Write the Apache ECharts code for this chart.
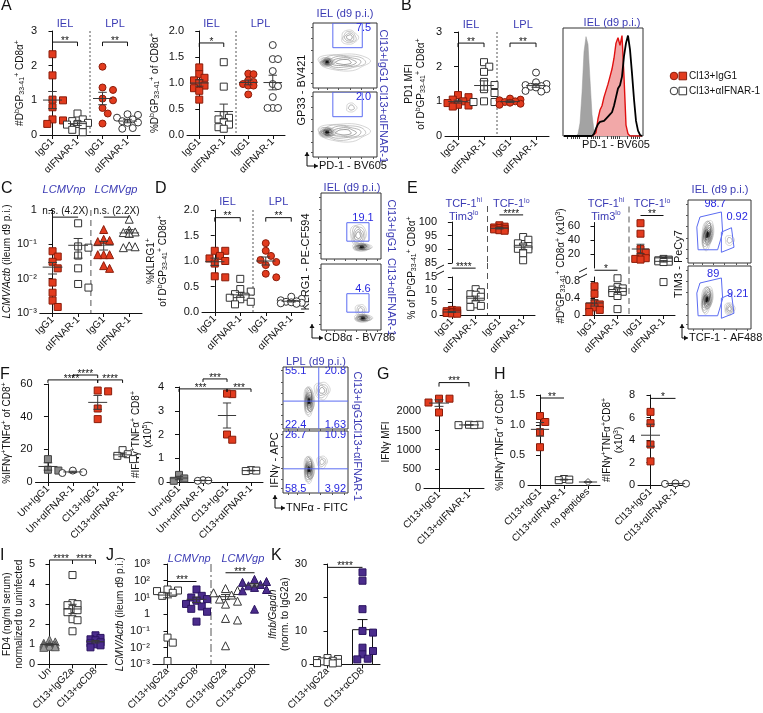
<!DOCTYPE html>
<html><head><meta charset="utf-8">
<script src="https://cdn.jsdelivr.net/npm/echarts@6/dist/echarts.min.js"></script>
<style>html,body{margin:0;padding:0;background:#fff}#c{width:763px;height:713px}</style>
</head><body><div id="c"></div>
<script>
// ================= DATA =================
const catsIfnar = ['IgG1', 'αIFNAR-1', 'IgG1', 'αIFNAR-1'];
// A
const a1IelIgG1 = [2.33, 1.72, 1.02, 1.00, 0.80, 0.45, 0.42, 0.32];
const a1IelIfnar = [0.62, 0.45, 0.40, 0.35, 0.32, 0.30, 0.28, 0.15, 0.08];
const a1LplIgG1 = [1.97, 1.37, 1.30, 1.05, 1.00, 0.78, 0.62, 0.33];
const a1LplIfnar = [0.60, 0.58, 0.50, 0.45, 0.40, 0.36, 0.35, 0.20, 0.18];
const a2IelIgG1 = [1.30, 1.17, 1.10, 1.05, 1.00, 0.95, 0.90, 0.85, 0.68];
const a2IelIfnar = [1.40, 0.93, 0.38, 0.33, 0.30, 0.25, 0.20, 0.15, 0.12];
const a2LplIgG1 = [1.18, 1.17, 1.05, 1.02, 0.98, 0.95, 0.95, 0.78];
const a2LplIfnar = [1.73, 1.46, 1.46, 1.23, 0.98, 0.94, 0.73, 0.52, 0.52, 0.52];
// B
const bIelIgG1 = [1.18, 1.12, 1.05, 1.00, 0.95, 0.90, 0.88, 0.85];
const bIelIfnar = [2.13, 2.00, 1.85, 1.56, 1.47, 1.35, 1.24, 1.00, 0.98, 0.98];
const bLplIgG1 = [1.08, 1.05, 1.03, 1.00, 0.98, 0.96, 0.93, 0.90];
const bLplIfnar = [1.83, 1.55, 1.50, 1.47, 1.44, 1.42, 1.40, 1.35, 1.30, 1.28];
const histGrey = [0,0,0,0,0,0,0,2,12,40,78,92,85,52,20,5,1,0,0,0,0,0,0,0,0,0,0,0,0,0,0,0,0,0,0,0,0,0,0,0];
const histRed = [0,0,0,0,0,0,0,0,0,0,0,0,0,0,0,0,3,16,24,28,36,42,48,55,62,72,86,91,84,93,55,10,2,0,0,0,0,0,0,0];
const histBlack = [0,0,0,0,0,0,0,0,0,0,0,0,0,0,0,2,7,11,13,12,14,15,18,20,22,28,36,44,47,55,74,86,93,80,58,34,14,5,1,0];
// C
const cNpIgG1 = [0.063, 0.044, 0.031, 0.020, 0.0077, 0.0039, 0.0023, 0.0015];
const cNpIfnar = [0.41, 0.087, 0.080, 0.047, 0.020, 0.007, 0.0055];
const cGpIgG1 = [0.27, 0.14, 0.13, 0.12, 0.05, 0.05, 0.05, 0.024, 0.02];
const cGpIfnar = [0.54, 0.26, 0.23, 0.22, 0.21, 0.09, 0.085, 0.08];
// D
const dIelIgG1 = [1.20, 1.20, 1.10, 1.05, 1.00, 0.95, 0.70, 0.68];
const dIelIfnar = [0.65, 0.45, 0.40, 0.35, 0.30, 0.28, 0.25, 0.20, 0.15];
const dLplIgG1 = [1.35, 1.20, 1.10, 1.02, 0.98, 0.92, 0.75, 0.68];
const dLplIfnar = [0.30, 0.26, 0.23, 0.21, 0.20, 0.19, 0.18, 0.17, 0.16];
// E
const eTcfHiIgG1 = [2.0, 1.8, 1.5, 1.2, 1.0, 0.8, 0.6, 0.5];
const eTcfHiIfnar = [10.2, 9.0, 8.2, 8.0, 7.2, 6.0, 4.2, 3.6, 3.2];
const eTcfLoIgG1 = [98.8, 98.3, 98.0, 97.8, 97.5, 97.3, 97.0, 96.8];
const eTcfLoIfnar = [94.5, 93.5, 92.2, 91.2, 91.0, 90.2, 90.0, 88.5, 86.0];
const e2TcfHiIgG1 = [0.68, 0.50, 0.28, 0.25, 0.20, 0.18, 0.12, 0.07];
const e2TcfHiIfnar = [0.87, 0.66, 0.63, 0.60, 0.57, 0.55, 0.52, 0.45, 0.14];
const e2TcfLoIgG1 = [64, 49, 27, 22, 16, 14, 13, 12];
const e2TcfLoIfnar = [13, 12, 11, 11, 10.5, 10, 9.5, 9, 8.5, 0.78];
// F
const catsF = ['Un+IgG1', 'Un+αIFNAR-1', 'Cl13+IgG1', 'Cl13+αIFNAR-1'];
const f1UnIgG1 = [14, 7.5, 7];
const f1UnIfnar = [7, 6, 5.5];
const f1ClIgG1 = [55.5, 56, 45, 38.5];
const f1ClIfnar = [19.5, 17, 16, 14];
const f2UnIgG1 = [0.30, 0.15, 0.05];
const f2UnIfnar = [0.08, 0.06, 0.05];
const f2ClIgG1 = [3.70, 3.72, 2.00, 1.78];
const f2ClIfnar = [0.50, 0.46, 0.48];
// G, H
const catsG = ['Cl13+IgG1', 'Cl13+αIFNAR-1'];
const gIgG1 = [2230, 2330, 2330, 1970];
const gIfnar = [1640, 1650, 1650, 1640];
const catsH1 = ['Cl13+IgG1', 'Cl13+αIFNAR-1', 'no peptides'];
const h1IgG1 = [1.15, 1.05, 0.88, 0.63];
const h1Ifnar = [0.10, 0.08, 0.09];
const h1NoPep = [0.05];
const h2IgG1 = [6.5, 5.5, 3.6, 2.1];
const h2Ifnar = [0.15, 0.12, 0.10];
// I, J, K
const catsI = ['Un', 'Cl13+IgG2a', 'Cl13+αCD8'];
const iUn = [1.22, 1.12, 1.05, 1.00, 0.96, 0.95, 0.90, 0.88, 0.85];
const iIgG2a = [4.45, 3.05, 3.00, 2.95, 2.75, 2.70, 2.60, 2.25, 2.20, 1.65];
const iCd8 = [1.45, 1.32, 1.25, 1.20, 1.10, 1.05, 1.00, 0.95, 0.85];
const catsJ = ['Cl13+IgG2a', 'Cl13+αCD8', 'Cl13+IgG2a', 'Cl13+αCD8'];
const jNpIgG2a = [30, 26, 24, 19, 12.5, 0.04, 0.02, 0.0016];
const jNpCd8 = [30, 12.5, 10, 8, 6.4, 4.1, 2.9, 2.1, 1.4, 0.36];
const jGpIgG2a = [34, 26, 19, 14, 8, 6, 4, 0.56, 0.45, 0.013];
const jGpCd8 = [120, 90, 80, 60, 50, 40, 30, 25, 2];
const catsK = ['Cl13+IgG2a', 'Cl13+αCD8'];
const kIgG2a = [1.9, 1.6, 1.3, 1.1, 0.9, 0.7, 0.5, 0.4, 0.3];
const kCd8 = [27.5, 25, 16.5, 10, 9.5, 5, 4, 3, 1.7, 1.5];
// Flow plots: populations [cx, cy, rx, ry, rotDeg, levels, darkness]
const flowAIgG1Pops = [[48,40,40,13,0,5,0.5],[22,40,12,7,0,8,1],[57,78,13,11,0,4,0.45]];
const flowAIfnarPops = [[48,38,40,14,0,5,0.5],[22,38,14,8,0,8,1],[60,76,8,7,0,2,0.3]];
const flowDIgG1Pops = [[62,36,13,17,0,5,0.55],[68,18,16,6,0,8,1]];
const flowDIfnarPops = [[66,30,9,9,0,3,0.35],[70,18,15,6,0,8,1]];
const flowEIgG1Pops = [[31,45,9,24,-8,9,1],[66,36,7,8,0,2,0.3]];
const flowEIfnarPops = [[30,47,9,22,-8,9,1],[66,32,8,10,0,4,0.5]];
const flowFIgG1Pops = [[60,62,12,14,0,4,0.45],[40,45,8,24,0,9,1]];
const flowFIfnarPops = [[60,50,8,10,0,3,0.35],[40,38,8,22,0,9,1]];
const gateRectA = [[31,62],[77,100]];
const gateRectD = [[43,27],[80,55]];
const gateEHi = [[19,73],[53,81],[55,48],[47,21],[16,21],[14,57]];
const gateELo = [[53,49],[69,56],[73,25],[53,17]];
const labelsAIgG1 = [[79,92,'7.5']], labelsAIfnar = [[79,92,'2.0']];
const labelsDIgG1 = [[70,62,'19.1']], labelsDIfnar = [[70,62,'4.6']];
const labelsEIgG1 = [[43,94,'98.7'],[78,73,'0.92']], labelsEIfnar = [[40,88,'89'],[79,56,'9.21']];
const quadFIgG1 = [55,45], quadFIfnar = [55,39];
const labelsFIgG1 = [[3,93,'55.1','left'],[97,93,'20.8','right'],[3,7,'22.4','left'],[97,7,'1.63','right']];
const labelsFIfnar = [[3,93,'26.7','left'],[97,93,'10.9','right'],[3,7,'58.5','left'],[97,7,'3.92','right']];

// ================= STYLE =================
const FONT = '"Liberation Sans", Arial, Helvetica, sans-serif';
const BLUE = '#3a3ab4', GATE = '#5b6cf2';
const RED = '#e23b1e', REDB = '#8a1c0a', PUR = '#4b2c8c', PURB = '#2a1360';
const STY = {
  redSq: {symbol:'rect', color:RED, border:REDB, size:7},
  redCi: {symbol:'circle', color:RED, border:REDB, size:7},
  redTri: {symbol:'triangle', color:RED, border:REDB, size:8},
  openSq: {symbol:'rect', color:'#fff', border:'#333', size:7},
  openCi: {symbol:'circle', color:'#fff', border:'#333', size:7},
  openTri: {symbol:'triangle', color:'#fff', border:'#333', size:8},
  greySq: {symbol:'rect', color:'#8a8a8a', border:'#444', size:7},
  greyTri: {symbol:'triangle', color:'#9a9a9a', border:'#555', size:8},
  purSq: {symbol:'rect', color:PUR, border:PURB, size:7},
  purTri: {symbol:'triangle', color:PUR, border:PURB, size:8},
  openDia: {symbol:'diamond', color:'#fff', border:'#555', size:7}
};
const RICH = {
  sup: {fontSize:7, color:'#111', fill:'#111', padding:[0,0,6,0], fontFamily:FONT},
  sub: {fontSize:7, color:'#111', fill:'#111', padding:[5,0,0,0], fontFamily:FONT},
  it: {fontSize:10, color:'#111', fill:'#111', fontStyle:'italic', fontFamily:FONT}
};
const RICHB = {s: {fontSize:7, color:BLUE, fill:BLUE, padding:[0,0,6,0], fontFamily:FONT}};
const SUPS = {'-':'⁻','0':'⁰','1':'¹','2':'²','3':'³'};
const logFmt = v => { const e = Math.round(Math.log10(v)); return e === 0 ? '1' : '10' + String(e).split('').map(c => SUPS[c]).join(''); };
const f1 = v => v.toFixed(1);
const f1z = v => v === 0 ? '0' : v.toFixed(1);

const option = {animation:false, textStyle:{fontFamily:FONT}, grid:[], xAxis:[], yAxis:[], series:[], graphic:[]};
const G = option.graphic;

function addGrid(r, border){
  option.grid.push(Object.assign({left:r.l, top:r.t, width:r.w, height:r.h, containLabel:false},
    border ? {show:true, borderColor:'#333', borderWidth:1, backgroundColor:'#fff'} : {}));
  return option.grid.length - 1;
}
function stats(a){
  const n = a.length, m = a.reduce((s,v)=>s+v,0)/n;
  const sd = n > 1 ? Math.sqrt(a.reduce((s,v)=>s+(v-m)*(v-m),0)/(n-1)) : 0;
  return {m, se: sd/Math.sqrt(n)};
}
// deterministic swarm layout: nudges overlapping points sideways, bounded inside the category
function swarm(vals, toPx, s, catW){
  const pts = vals.map((v,i)=>({y:toPx(v), i, x:0}));
  const order = pts.slice().sort((a,b)=>b.y-a.y);
  const placed = [];
  const cands = [0, 1, -1, 2, -2, 3, -3].map(k => k*s*0.75).filter(o => Math.abs(o) <= catW*0.42);
  order.forEach(p => {
    let best = 0, bestD = -1;
    for (const off of cands){
      let minD = Infinity;
      placed.forEach(q => { const d = Math.hypot(q.x - off, q.y - p.y); if (d < minD) minD = d; });
      if (minD >= s*0.95){ best = off; break; }
      if (minD > bestD){ bestD = minD; best = off; }
    }
    p.x = best; placed.push(p);
  });
  return pts.map(p => p.x / catW);
}
function cs(xv, yi, extra){ return Object.assign({type:'custom', coordinateSystem:'cartesian2d', xAxisIndex:xv, yAxisIndex:yi, silent:true}, extra); }

function addPlot(P){
  const g = addGrid(P.r);
  const n = P.cats.length, catW = P.r.w / n;
  const Y = P.y, keep = P.keep || [Y.min, Y.max];
  const xc = option.xAxis.length;
  option.xAxis.push({gridIndex:g, type:'category', data:P.cats.map((c,i)=>String(i)), show:!P.hideX, boundaryGap:true,
    axisLine:{show:true, lineStyle:{color:'#111', width:1}},
    axisTick:{show:true, alignWithLabel:true, length:4, lineStyle:{color:'#111'}},
    axisLabel:{show:true, interval:0, rotate:45, fontSize:10, color:'#111', fontFamily:FONT, margin:5, formatter:(v,i)=>P.cats[i]},
    splitLine:{show:false}});
  option.xAxis.push({gridIndex:g, type:'value', min:-0.5, max:n-0.5, show:false});
  const xv = xc + 1, yi = option.yAxis.length;
  option.yAxis.push({gridIndex:g, type:Y.log?'log':'value', logBase:10, min:Y.min, max:Y.max,
    axisLine:{show:true, lineStyle:{color:'#111', width:1}},
    axisTick:{show:true, length:4, lineStyle:{color:'#111'}, customValues:Y.ticks},
    axisLabel:{show:true, fontSize:11, color:'#111', fontFamily:FONT, margin:3, customValues:Y.ticks, formatter:Y.fmt || (v=>String(v))},
    splitLine:{show:false}, minorTick:{show:false},
    name:P.name || '', nameLocation:'middle', nameRotate:90, nameGap:P.ng || 20,
    nameTextStyle:{fontSize:10, color:'#111', fontFamily:FONT, lineHeight:12, rich:RICH}});
  const toPx = Y.log ? (v => Math.log10(v/Y.min)/Math.log10(Y.max/Y.min)*P.r.h) : (v => (v-Y.min)/(Y.max-Y.min)*P.r.h);
  if (P.div){
    const ext = P.div.ext || 0, dash = P.div.dash;
    option.series.push(cs(xv, yi, {z:1, clip:false, data:[[1.5, Y.min]], renderItem:(params, api)=>{
      const c = params.coordSys, x = api.coord([1.5, Y.min])[0];
      return {type:'line', shape:{x1:x, y1:c.y - ext, x2:x, y2:c.y + c.height}, style:{stroke:'#555', lineWidth:1, lineDash:dash}};
    }}));
  }
  const rows = P.groups.map(([cat, vals]) => { const s = stats(vals); return [cat, s.m, Math.max(s.m - s.se, Y.min), Math.min(s.m + s.se, Y.max)]; });
  if (P.bars){
    const bw = P.bars;
    option.series.push(cs(xv, yi, {z:2, data:rows, renderItem:(params, api)=>{
      const x = api.value(0), m = api.value(1), hi = api.value(3);
      const p0 = api.coord([x, 0]), pm = api.coord([x, m]), ph = api.coord([x, hi]);
      const st = {stroke:'#111', lineWidth:1};
      return {type:'group', children:[
        {type:'rect', shape:{x:p0[0]-bw/2, y:pm[1], width:bw, height:p0[1]-pm[1]}, style:{fill:'#fff', stroke:'#111', lineWidth:1}},
        {type:'line', shape:{x1:pm[0], y1:pm[1], x2:pm[0], y2:ph[1]}, style:st},
        {type:'line', shape:{x1:pm[0]-5, y1:ph[1], x2:pm[0]+5, y2:ph[1]}, style:st}]};
    }}));
  }
  P.groups.forEach(([cat, vals, sk]) => {
    const st = STY[sk];
    const kept = vals.filter(v => v >= keep[0] && v <= keep[1]);
    const offs = swarm(kept, toPx, st.size, catW);
    option.series.push({type:'scatter', xAxisIndex:xv, yAxisIndex:yi, symbol:st.symbol, symbolSize:st.size, silent:true, z:4,
      itemStyle:{color:st.color, borderColor:st.border, borderWidth:1, opacity:1},
      data: kept.map((v,i)=>[cat + offs[i], v])});
  });
  if (!P.bars){
    const hw = Math.min(10, catW*0.38), cw = hw*0.45;
    option.series.push(cs(xv, yi, {z:6, data:rows, renderItem:(params, api)=>{
      const x = api.value(0), m = api.value(1);
      if (m < keep[0] || m > keep[1]) return {type:'group', children:[]};
      const lo = Math.max(api.value(2), keep[0]), hi = Math.min(api.value(3), keep[1]);
      const pm = api.coord([x, m]), pl = api.coord([x, lo]), ph = api.coord([x, hi]);
      const st = {stroke:'#3a3a3a', lineWidth:1};
      return {type:'group', children:[
        {type:'line', shape:{x1:pm[0]-hw, y1:pm[1], x2:pm[0]+hw, y2:pm[1]}, style:st},
        {type:'line', shape:{x1:pm[0], y1:pl[1], x2:pm[0], y2:ph[1]}, style:st},
        {type:'line', shape:{x1:pm[0]-cw, y1:pl[1], x2:pm[0]+cw, y2:pl[1]}, style:st},
        {type:'line', shape:{x1:pm[0]-cw, y1:ph[1], x2:pm[0]+cw, y2:ph[1]}, style:st}]};
    }}));
  }
  if (P.sig){
    const sigs = P.sig;
    option.series.push(cs(xv, yi, {z:6, clip:false, data:sigs.map(s=>[s[0], s[2]]), renderItem:(params, api)=>{
      const s = sigs[params.dataIndex];
      const p1 = api.coord([s[0], s[2]]), p2 = api.coord([s[1], s[2]]), d = s[4] || 0;
      const tx = s[5] != null ? api.coord([s[5], s[2]])[0] : (p1[0]+p2[0])/2;
      const pts = d ? [[p1[0],p1[1]+d],[p1[0],p1[1]],[p2[0],p2[1]],[p2[0],p2[1]+d]] : [[p1[0],p1[1]],[p2[0],p2[1]]];
      const star = /^\*+$/.test(s[3]);
      return {type:'group', children:[
        {type:'polyline', shape:{points:pts}, style:{stroke:'#111', lineWidth:1, fill:'none'}},
        {type:'text', x:tx, y:p1[1] + (star ? 4 : -1), style:{text:s[3], textAlign:'center', textVerticalAlign:'bottom', font:'10px '+FONT, fill:'#111'}}]};
    }}));
  }
  (P.heads || []).forEach(h => {
    G.push({type:'text', x:P.r.l + (h[1]+0.5)*catW, y:h[2], style:{text:h[0], rich:RICHB, textAlign:'center', textVerticalAlign:'middle',
      font:(h[3]?'italic ':'')+'11px '+FONT, fill:BLUE, lineHeight:13}});
  });
}

function addFlow(r, pops, gates, labels, quad){
  const g = addGrid(r, true);
  option.xAxis.push({gridIndex:g, type:'value', min:0, max:100, axisLine:{show:false}, axisLabel:{show:false}, splitLine:{show:false},
    axisTick:{show:true, length:2, lineStyle:{color:'#555'}, customValues:[8,22,40,58,76,94]}});
  option.yAxis.push({gridIndex:g, type:'value', min:0, max:100, axisLine:{show:false}, axisLabel:{show:false}, splitLine:{show:false},
    axisTick:{show:true, length:2, lineStyle:{color:'#555'}, customValues:[8,22,40,58,76,94]}});
  const xi = option.xAxis.length - 1, yi = option.yAxis.length - 1;
  option.series.push(cs(xi, yi, {z:3, clip:true, data:[[50,50]], renderItem:(params, api)=>{
    const ch = [];
    pops.forEach((p, pi) => {
      const c = api.coord([p[0], p[1]]), sz = api.size([p[2], p[3]]);
      const rot = p[4]*Math.PI/180, lev = p[5], dark = p[6];
      for (let k = 0; k < lev; k++){
        const f = 1 - k/lev*0.88;
        const gv = Math.round(195 - 175*dark*(lev > 1 ? k/(lev-1) : 0.3));
        const pts = [];
        for (let j = 0; j < 40; j++){
          const a = 2*Math.PI*j/40;
          const w = 1 + 0.07*Math.sin(3*a + k + pi) + 0.04*Math.cos(5*a + 2*k);
          const ex = sz[0]*f*w*Math.cos(a), ey = sz[1]*f*w*Math.sin(a);
          pts.push([c[0] + ex*Math.cos(rot) - ey*Math.sin(rot), c[1] - (ex*Math.sin(rot) + ey*Math.cos(rot))]);
        }
        ch.push({type:'polygon', shape:{points:pts}, style:{fill:(k === lev-1 && dark > 0.8) ? '#151515' : 'none', stroke:'rgb('+gv+','+gv+','+gv+')', lineWidth:0.7}});
      }
    });
    gates.forEach(gp => {
      const pts = gp.length === 2 ? [[gp[0][0],gp[0][1]],[gp[1][0],gp[0][1]],[gp[1][0],gp[1][1]],[gp[0][0],gp[1][1]]] : gp;
      ch.push({type:'polygon', shape:{points:pts.map(p => api.coord(p))}, style:{fill:'none', stroke:GATE, lineWidth:1}});
    });
    if (quad){
      const a = api.coord([quad[0], 0]), b = api.coord([quad[0], 100]), c = api.coord([0, quad[1]]), d = api.coord([100, quad[1]]);
      ch.push({type:'line', shape:{x1:a[0], y1:a[1], x2:b[0], y2:b[1]}, style:{stroke:GATE, lineWidth:1}});
      ch.push({type:'line', shape:{x1:c[0], y1:c[1], x2:d[0], y2:d[1]}, style:{stroke:GATE, lineWidth:1}});
    }
    labels.forEach(l => {
      const p = api.coord([l[0], l[1]]);
      ch.push({type:'text', x:p[0], y:p[1], style:{text:l[2], textAlign:l[3] || 'center', textVerticalAlign:'middle', font:'11px '+FONT, fill:'#2828e0'}});
    });
    return {type:'group', children:ch};
  }}));
}

// ================= PLOTS =================
addPlot({r:{l:40,t:31,w:100,h:104}, cats:catsIfnar, y:{min:0,max:3,ticks:[0,1,2,3]},
  groups:[[0,a1IelIgG1,'redSq'],[1,a1IelIfnar,'openSq'],[2,a1LplIgG1,'redCi'],[3,a1LplIfnar,'openCi']],
  div:{dash:[2,2]}, heads:[['IEL',0.5,24],['LPL',2.5,24]], sig:[[0,1,2.68,'**',4],[2,3,2.68,'**',4]],
  name:'#D{sup|b}GP{sub|33-41}{sup|+} CD8α{sup|+}', ng:14});
addPlot({r:{l:187,t:31,w:98,h:104}, cats:catsIfnar, y:{min:0,max:2,ticks:[0,0.5,1,1.5,2],fmt:f1},
  groups:[[0,a2IelIgG1,'redSq'],[1,a2IelIfnar,'openSq'],[2,a2LplIgG1,'redCi'],[3,a2LplIfnar,'openCi']],
  div:{dash:[2,2]}, heads:[['IEL',0.5,24],['LPL',2.5,24]], sig:[[0,1,1.77,'*',4]],
  name:'%D{sup|b}GP{sub|33-41}{sup|+} of CD8α{sup|+}', ng:26});
addPlot({r:{l:445,t:32,w:104,h:104}, cats:catsIfnar, y:{min:0,max:3,ticks:[0,1,2,3]},
  groups:[[0,bIelIgG1,'redSq'],[1,bIelIfnar,'openSq'],[2,bLplIgG1,'redCi'],[3,bLplIfnar,'openCi']],
  div:{dash:[2,2]}, heads:[['IEL',0.5,25],['LPL',2.5,25]], sig:[[0,1,2.68,'**',4],[2,3,2.68,'**',4]],
  name:'PD1 MFI\nof D{sup|b}GP{sub|33-41}{sup|+} CD8α{sup|+}', ng:18});
addPlot({r:{l:38,t:210,w:104,h:103}, cats:catsIfnar, y:{log:true,min:0.001,max:1,ticks:[0.001,0.01,0.1,1],fmt:logFmt},
  groups:[[0,cNpIgG1,'redSq'],[1,cNpIfnar,'openSq'],[2,cGpIgG1,'redTri'],[3,cGpIfnar,'openTri']],
  div:{dash:[6,4]}, heads:[['LCMVnp',0.5,190,true],['LCMVgp',2.5,190,true]],
  sig:[[0,1,0.62,'n.s. (4.2X)',0],[2,3,0.62,'n.s. (2.2X)',0]],
  name:'{it|LCMV/Actb} (ileum d9 p.i.)', ng:24});
addPlot({r:{l:202,t:210,w:102,h:102}, cats:catsIfnar, y:{min:0,max:2,ticks:[0,0.5,1,1.5,2],fmt:f1},
  groups:[[0,dIelIgG1,'redSq'],[1,dIelIfnar,'openSq'],[2,dLplIgG1,'redCi'],[3,dLplIfnar,'openCi']],
  div:{dash:[2,2]}, heads:[['IEL',0.5,202],['LPL',2.5,202]], sig:[[0,1,1.85,'**',4],[2,3,1.85,'**',4]],
  name:'%KLRG1{sup|+}\nof D{sup|b}GP{sub|33-41}{sup|+} CD8α{sup|+}', ng:33});
// E1 broken axis
const eGroups1 = [[0,eTcfHiIgG1,'redSq'],[1,eTcfHiIfnar,'openSq'],[2,eTcfLoIgG1,'redSq'],[3,eTcfLoIfnar,'openSq']];
addPlot({r:{l:440,t:222,w:95,h:41}, cats:catsIfnar, hideX:true, y:{min:85,max:100,ticks:[85,90,95,100]}, keep:[85,100],
  groups:eGroups1, div:{dash:[6,4], ext:16}, sig:[[2,3,102.6,'****',0]],
  heads:[['TCF-1{s|hi}\nTim3{s|lo}',0.5,210],['TCF-1{s|lo}',2.5,204]]});
addPlot({r:{l:440,t:277,w:95,h:38}, cats:catsIfnar, y:{min:0,max:15,ticks:[0,5,10,15]}, keep:[0,15],
  groups:eGroups1, div:{dash:[6,4], ext:14}, sig:[[0,1,18.5,'****',0]]});
// E2 broken axis
const eGroups2 = [[0,e2TcfHiIgG1,'redSq'],[1,e2TcfHiIfnar,'openSq'],[2,e2TcfLoIgG1,'redSq'],[3,e2TcfLoIfnar,'openSq']];
addPlot({r:{l:583,t:222.5,w:92,h:45.5}, cats:catsIfnar, hideX:true, y:{min:0,max:65,ticks:[20,40,60]}, keep:[0.9,65],
  groups:eGroups2, div:{dash:[6,4], ext:16}, sig:[[2,3,75,'**',0]],
  heads:[['TCF-1{s|hi}\nTim3{s|lo}',0.5,210],['TCF-1{s|lo}',2.5,204]]});
addPlot({r:{l:583,t:277,w:92,h:38}, cats:catsIfnar, y:{min:0,max:0.9,ticks:[0,0.4,0.8],fmt:f1z}, keep:[0,0.9],
  groups:eGroups2, div:{dash:[6,4], ext:9}, sig:[[0,1,1.06,'*',0]]});
// F
addPlot({r:{l:35,t:384,w:100,h:98}, cats:catsF, y:{min:0,max:60,ticks:[0,20,40,60]},
  groups:[[0,f1UnIgG1,'greySq'],[1,f1UnIfnar,'openCi'],[2,f1ClIgG1,'redSq'],[3,f1ClIfnar,'openSq']],
  sig:[[1,2,65.5,'****',3],[0,2,62.5,'****',3,0.95],[2,3,62.5,'****',3]],
  name:'%IFNγ{sup|+}TNFα{sup|+} of CD8{sup|+}', ng:22});
addPlot({r:{l:167,t:387,w:96,h:95}, cats:catsF, y:{min:0,max:4,ticks:[0,1,2,3,4]},
  groups:[[0,f2UnIgG1,'greySq'],[1,f2UnIfnar,'openCi'],[2,f2ClIgG1,'redSq'],[3,f2ClIfnar,'openSq']],
  sig:[[1,2,4.34,'***',3],[0,2,3.92,'***',3,0.9],[2,3,3.92,'***',3]],
  name:'#IFNγ{sup|+}TNFα{sup|+} CD8{sup|+}\n(x10{sup|5})', ng:12});
// G, H
addPlot({r:{l:424,t:396,w:60,h:92}, cats:catsG, y:{min:0,max:2400,ticks:[0,500,1000,1500,2000]},
  groups:[[0,gIgG1,'redSq'],[1,gIfnar,'openSq']], sig:[[0,1,2750,'***',4]],
  name:'IFNγ MFI', ng:31});
addPlot({r:{l:528,t:395,w:72,h:90}, cats:catsH1, y:{min:0,max:1.5,ticks:[0,0.5,1,1.5],fmt:f1z},
  groups:[[0,h1IgG1,'redSq'],[1,h1Ifnar,'openSq'],[2,h1NoPep,'openDia']], sig:[[0,1,1.45,'**',0]],
  name:'%IFNγ{sup|+}TNFα{sup|+} of CD8{sup|+}', ng:18});
addPlot({r:{l:638,t:395,w:50,h:90}, cats:catsG, y:{min:0,max:8,ticks:[0,2,4,6,8]},
  groups:[[0,h2IgG1,'redSq'],[1,h2Ifnar,'openCi']], sig:[[0,1,7.7,'*',0]],
  name:'#IFNγ{sup|+}TNFα{sup|+}CD8{sup|+}\n(x10{sup|3})', ng:12});
// I, J, K
addPlot({r:{l:35,t:564,w:72,h:104}, cats:catsI, y:{min:0,max:5,ticks:[0,1,2,3,4,5]},
  groups:[[0,iUn,'greyTri'],[1,iIgG2a,'openSq'],[2,iCd8,'purSq']], sig:[[0,1,5.2,'****',4],[1,2,5.2,'****',4]],
  name:'FD4 (ng/ml serum)\nnormalized to uninfected', ng:9});
addPlot({r:{l:153,t:564,w:116,h:104}, cats:catsJ, y:{log:true,min:0.001,max:1000,ticks:[0.001,0.01,0.1,1,10,100,1000],fmt:logFmt},
  groups:[[0,jNpIgG2a,'openSq'],[1,jNpCd8,'purSq'],[2,jGpIgG2a,'openTri'],[3,jGpCd8,'purTri']],
  div:{dash:[8,3,2,3]}, heads:[['LCMVnp',0.75,559,true],['LCMVgp',2.6,559,true]],
  sig:[[0,1,90,'***',0],[2,3,300,'***',0]],
  name:'{it|LCMV/Actb} (ileum d9 p.i.)', ng:20});
addPlot({r:{l:310,t:564,w:70,h:105}, cats:catsK, y:{min:0,max:30,ticks:[0,10,20,30]}, bars:20,
  groups:[[0,kIgG2a,'openSq'],[1,kCd8,'purSq']], sig:[[0,1,29,'****',0]],
  name:'{it|Ifnb/Gapdh}\n(norm. to IgG2a)', ng:15});

// ================= FLOW / HISTOGRAM =================
addFlow({l:313,t:23,w:64,h:65}, flowAIgG1Pops, [gateRectA], labelsAIgG1);
addFlow({l:313,t:92,w:64,h:65}, flowAIfnarPops, [gateRectA], labelsAIfnar);
addFlow({l:321,t:193,w:60,h:66}, flowDIgG1Pops, [gateRectD], labelsDIgG1);
addFlow({l:321,t:264,w:60,h:66}, flowDIfnarPops, [gateRectD], labelsDIfnar);
addFlow({l:688,t:200,w:63,h:63}, flowEIgG1Pops, [gateEHi, gateELo], labelsEIgG1);
addFlow({l:688,t:266,w:63,h:63}, flowEIfnarPops, [gateEHi, gateELo], labelsEIfnar);
addFlow({l:283,t:367,w:65,h:62}, flowFIgG1Pops, [], labelsFIgG1, quadFIgG1);
addFlow({l:283,t:431,w:65,h:62}, flowFIfnarPops, [], labelsFIfnar, quadFIfnar);

(function(){
  const g = addGrid({l:563,t:28,w:80,h:108}, true);
  option.xAxis.push({gridIndex:g, type:'value', min:0, max:80, axisLine:{show:false}, axisLabel:{show:false}, splitLine:{show:false},
    axisTick:{show:true, length:3, lineStyle:{color:'#444'}, customValues:[4,8,10,12,14,16,24,28,30,32,34,36,44,48,50,52,54,56,64,68,70,72,74,76]}});
  option.yAxis.push({gridIndex:g, type:'value', min:0, max:100, show:false});
  const xi = option.xAxis.length - 1, yi = option.yAxis.length - 1;
  const mk = arr => arr.map((v,i)=>[i*2+1, v]);
  option.series.push({type:'line', xAxisIndex:xi, yAxisIndex:yi, data:mk(histGrey), symbol:'none', silent:true, z:2,
    lineStyle:{color:'#999', width:0.5}, areaStyle:{color:'#a3a3a3', opacity:1}});
  option.series.push({type:'line', xAxisIndex:xi, yAxisIndex:yi, data:mk(histRed), symbol:'none', silent:true, z:3,
    lineStyle:{color:'#e01010', width:1.4}, areaStyle:{color:'#f2a8a8', opacity:1}});
  option.series.push({type:'line', xAxisIndex:xi, yAxisIndex:yi, data:mk(histBlack), symbol:'none', silent:true, z:4,
    lineStyle:{color:'#000', width:1.8}});
})();

// ================= ANNOTATIONS =================
function txt(x, y, text, o){
  o = o || {};
  G.push({type:'text', x, y, rotation:o.rot || 0, style:{text, rich:o.rich, textAlign:o.align || 'center', textVerticalAlign:o.va || 'middle',
    font:(o.italic?'italic ':'') + (o.size || 11) + 'px ' + FONT, fill:o.color || '#111', lineHeight:o.lh || 12}});
}
[['A',1,0],['B',401,0],['C',1,183],['D',155,183],['E',407,183],['F',0,369],['G',377,369],['H',494,369],['I',0,550],['J',106,550],['K',271,550]]
  .forEach(l => txt(l[1], l[2], l[0], {size:16, align:'left', va:'top'}));
// flow titles
txt(345, 14, 'IEL (d9 p.i.)', {color:BLUE});
txt(612, 23, 'IEL (d9 p.i.)', {color:BLUE});
txt(352, 188, 'IEL (d9 p.i.)', {color:BLUE});
txt(720, 190, 'IEL (d9 p.i.)', {color:BLUE});
txt(316, 362, 'LPL (d9 p.i.)', {color:BLUE});
// side labels
[[383,56,'Cl13+IgG1'],[383,124,'Cl13+αIFNAR-1'],[391,226,'Cl13+IgG1'],[391,297,'Cl13+αIFNAR-1'],[357,398,'Cl13+IgG1'],[357,462,'Cl13+αIFNAR-1']]
  .forEach(s => txt(s[0], s[1], s[2], {rot:-Math.PI/2, color:BLUE}));
// flow axis names
txt(302, 90, 'GP33 - BV421', {rot:Math.PI/2});
txt(306, 262, 'KLRG1 - PE-CF594', {rot:Math.PI/2});
txt(679, 264, 'TIM3 - PeCy7', {rot:Math.PI/2});
txt(275, 460, 'IFNγ - APC', {rot:Math.PI/2});
txt(616, 145, 'PD-1 - BV605');
function arrow(x, y, up, right, label){
  G.push({type:'polyline', shape:{points:[[x,y-up],[x,y],[x+right,y]]}, style:{stroke:'#111', lineWidth:1, fill:'none'}});
  G.push({type:'polygon', shape:{points:[[x-2.5,y-up+4],[x,y-up],[x+2.5,y-up+4]]}, style:{fill:'#111'}});
  G.push({type:'polygon', shape:{points:[[x+right-4,y-2.5],[x+right,y],[x+right-4,y+2.5]]}, style:{fill:'#111'}});
  txt(x + right + 1, y, label, {align:'left'});
}
arrow(307, 166, 14, 11, 'PD-1 - BV605');
arrow(312, 338, 14, 11, 'CD8α - BV786');
arrow(682, 338, 14, 6, 'TCF-1 - AF488');
arrow(275, 508, 13, 10, 'TNFα - FITC');
// E y-axis names (span broken axes)
txt(412, 268, '% of D{sup|b}GP{sub|33-41}{sup|+} CD8α{sup|+}', {rot:Math.PI/2, rich:RICH, size:10});
txt(561, 266, '#D{sup|b}GP{sub|33-41}{sup|+} CD8α{sup|+} (x10{sup|3})', {rot:Math.PI/2, rich:RICH, size:10});
// axis break marks
[[440,267],[440,273],[583,270],[583,276]].forEach(b => G.push({type:'line', shape:{x1:b[0]-4, y1:b[1]+2, x2:b[0]+4, y2:b[1]-2}, style:{stroke:'#111', lineWidth:1}}));
// legend
G.push({type:'circle', shape:{cx:674, cy:76, r:3.8}, style:{fill:RED, stroke:REDB, lineWidth:1}});
G.push({type:'rect', shape:{x:679, y:72.2, width:7.6, height:7.6}, style:{fill:RED, stroke:REDB, lineWidth:1}});
G.push({type:'circle', shape:{cx:674, cy:91, r:3.8}, style:{fill:'#fff', stroke:'#333', lineWidth:1}});
G.push({type:'rect', shape:{x:679, y:87.2, width:7.6, height:7.6}, style:{fill:'#fff', stroke:'#333', lineWidth:1}});
txt(689, 76, 'Cl13+IgG1', {align:'left', size:10});
txt(689, 91, 'Cl13+αIFNAR-1', {align:'left', size:10});

const chart = echarts.init(document.getElementById('c'), null, {renderer:'canvas', width:763, height:713});
chart.setOption(option);
</script></body></html>
